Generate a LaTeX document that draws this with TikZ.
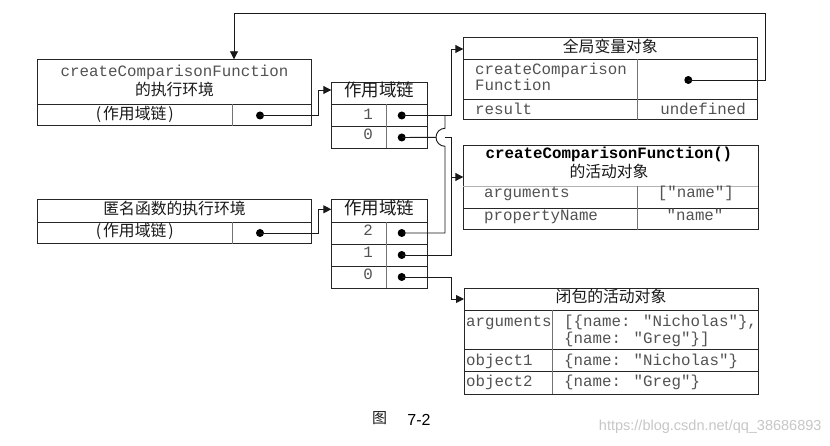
\documentclass[tikz,border=0pt]{standalone}
\usepackage{fontspec}
\setmainfont{Liberation Serif}
\newfontfamily\cjk{Noto Sans CJK SC}
\newfontfamily\mono{Liberation Mono}
\newfontfamily\wmfont{Liberation Sans}
\usetikzlibrary{arrows.meta}
\begin{document}
\begin{tikzpicture}[x=1pt,y=-1pt,
  boxframe/.style={draw=black!85, line width=1pt},
  hdiv/.style={draw=black!85, line width=0.9pt},
  vdiv/.style={draw=black!55, line width=0.9pt},
  mt/.style={font=\mono\fontsize{15.8}{18}\selectfont, text=black!68, inner sep=0pt, text height=0.7em, text depth=0.2em},
  mtb/.style={font=\mono\bfseries\fontsize{15.8}{18}\selectfont, text=black, inner sep=0pt, text height=0.7em, text depth=0.2em},
  ct/.style={font=\cjk\fontsize{15.8}{18}\selectfont, text=black!90, inner sep=0pt, text height=0.85em, text depth=0.12em},
  dotn/.style={circle, fill=black, inner sep=0pt, minimum size=8pt},
  conn/.style={draw=black!90, line width=0.9pt},
  arr/.style={conn, -{Triangle[length=8pt,width=8pt]}},
]
\fill[white] (0,0) rectangle (830,446);
\useasboundingbox (0,0) rectangle (830,446);

% ---------- top-left: execution context of createComparisonFunction
\draw[boxframe] (37.3,59.3) rectangle (311,126);
\draw[hdiv] (37.3,104.3) -- (311,104.3);
\draw[vdiv] (232.3,104.3) -- (232.3,126);
\node[mt] (tlT1) at (174.5,74.5) {createComparisonFunction};
\node[ct] (tlT2) at (174.5,91.5) {的执行环境};
\node[ct] (tlSc) at (134.8,115.5) {(\kern2pt作用域链\kern2pt)};
\node[dotn] (tlDot) at (260,115.5) {};

% ---------- top scope chain
\draw[boxframe] (331.3,82.3) rectangle (427,148.3);
\draw[hdiv] (331.3,104.3) -- (427,104.3);
\draw[hdiv] (331.3,126.7) -- (427,126.7);
\draw[vdiv] (386,104.3) -- (386,148.3);
\node[ct, font=\cjk\fontsize{17.5}{20}\selectfont] (tcH) at (379,93.3) {作用域链};
\node[mt] (tcN1) at (368,117.5) {1};
\node[mt] (tcN0) at (368,137.5) {0};
\node[dotn] (tc1) at (401.7,115.5) {};
\node[dotn] (tc0) at (401.7,137.5) {};
\coordinate (tcIn) at (331.3,90);

% ---------- global variable object
\draw[boxframe] (463.3,37.7) rectangle (757.3,120);
\draw[hdiv] (463.3,59.3) -- (757.3,59.3);
\draw[hdiv] (463.3,99.3) -- (757.3,99.3);
\draw[vdiv] (637.7,59.3) -- (637.7,120);
\node[ct] (gH) at (610.3,48.5) {全局变量对象};
\node[mt, anchor=west] (gA1) at (475,72) {createComparison};
\node[mt, anchor=west] (gA2) at (475,88.5) {Function};
\node[mt, anchor=west] (gB) at (475,112) {result};
\node[mt, anchor=east] (gBv) at (746,112) {undefined};
\node[dotn] (gDot) at (688.3,80) {};
\coordinate (gIn) at (463.3,49);
\coordinate (tlIn) at (234,59.3);

% ---------- activation object of createComparisonFunction()
\draw[boxframe] (463.3,146) rectangle (758.3,230);
\draw[draw=black!30, line width=0.8pt] (463.3,186) -- (758.3,186);
\draw[hdiv] (463.3,208.3) -- (758.3,208.3);
\draw[vdiv] (637.7,186) -- (637.7,230);
\node[mtb] (aH1) at (609,156.5) {createComparisonFunction()};
\node[ct] (aH2) at (609,173.5) {的活动对象};
\node[mt, anchor=west] (aA) at (484,195.5) {arguments};
\node[mt, anchor=east] (aAv) at (734,195.5) {["name"]};
\node[mt, anchor=west] (aP) at (484,218) {propertyName};
\node[mt] (aPv) at (695,218) {"name"};
\coordinate (aIn) at (463.3,177);

% ---------- bottom-left: execution context of the anonymous function
\draw[boxframe] (37.3,200) rectangle (311,244);
\draw[hdiv] (37.3,222.3) -- (311,222.3);
\draw[vdiv] (232.3,222.3) -- (232.3,244);
\node[ct] (blH) at (174.5,211.2) {匿名函数的执行环境};
\node[ct] (blSc) at (134.8,233.2) {(\kern2pt作用域链\kern2pt)};
\node[dotn] (blDot) at (260,233) {};

% ---------- bottom scope chain
\draw[boxframe] (331.3,200) rectangle (427,288.3);
\draw[hdiv] (331.3,222.3) -- (427,222.3);
\draw[hdiv] (331.3,244) -- (427,244);
\draw[hdiv] (331.3,266) -- (427,266);
\draw[vdiv] (386,222.3) -- (386,288.3);
\node[ct, font=\cjk\fontsize{17.5}{20}\selectfont] (bcH) at (379,211.2) {作用域链};
\node[mt] (bcN2) at (368,233) {2};
\node[mt] (bcN1) at (368,255) {1};
\node[mt] (bcN0) at (368,277) {0};
\node[dotn] (bc2) at (401.7,233) {};
\node[dotn] (bc1) at (401.7,255) {};
\node[dotn] (bc0) at (401.7,277) {};
\coordinate (bcIn) at (331.3,209.3);

% ---------- closure activation object
\draw[boxframe] (464,288.3) rectangle (758.3,394.3);
\draw[hdiv] (464,310) -- (758.3,310);
\draw[hdiv] (464,349.3) -- (758.3,349.3);
\draw[hdiv] (464,371.7) -- (758.3,371.7);
\draw[vdiv] (552.7,310) -- (552.7,394.3);
\node[ct] (cH) at (611,299) {闭包的活动对象};
\node[mt, anchor=west] (cA) at (466,324) {arguments};
\node[mt, anchor=west] (cAv1) at (564,324) {[\{name: "Nicholas"\},};
\node[mt, anchor=west] (cAv2) at (564,340.5) {\{name: "Greg"\}]};
\node[mt, anchor=west] (cO1) at (466,362.5) {object1};
\node[mt, anchor=west] (cO1v) at (564,362.5) {\{name: "Nicholas"\}};
\node[mt, anchor=west] (cO2) at (466,384) {object2};
\node[mt, anchor=west] (cO2v) at (564,384) {\{name: "Greg"\}};
\coordinate (cIn) at (464,299);

% ---------- connectors
\draw[arr] (tlDot.center) -- (318.3,115.5) |- (tcIn);
\draw[arr] (blDot.center) -- (318.3,233) |- (bcIn);
\draw[arr] (gDot.center) -- (765,80) -- (765,13.3) -| (tlIn);
\draw[arr] (tc1.center) -- (451.7,115.5) |- (gIn);
\draw[conn] (bc2.center) -- (445,233) -- (445,146.3)
   arc[start angle=270, end angle=90, radius=9pt] -- (445,115.5);
\draw[conn] (tc0.center) -- (436,137.3);
\draw[arr] (445,137.3) -- (451.7,137.3) |- (aIn);
\draw[conn] (bc1.center) -- (451.7,255) -- (451.7,177);
\draw[arr] (bc0.center) -- (451.7,277) |- (cIn);

% ---------- caption and watermark
\node[ct, font=\cjk\fontsize{15}{18}\selectfont] (capA) at (379.5,420) {图};
\node[font=\wmfont\fontsize{16}{18}\selectfont, inner sep=0pt] (capB) at (419,420) {7-2};
\node[font=\wmfont\fontsize{14.5}{17}\selectfont, text=black!22, anchor=east, inner sep=0pt] (wm) at (821.7,426.7) {https://blog.csdn.net/qq\_38686893};
\end{tikzpicture}
\end{document}
